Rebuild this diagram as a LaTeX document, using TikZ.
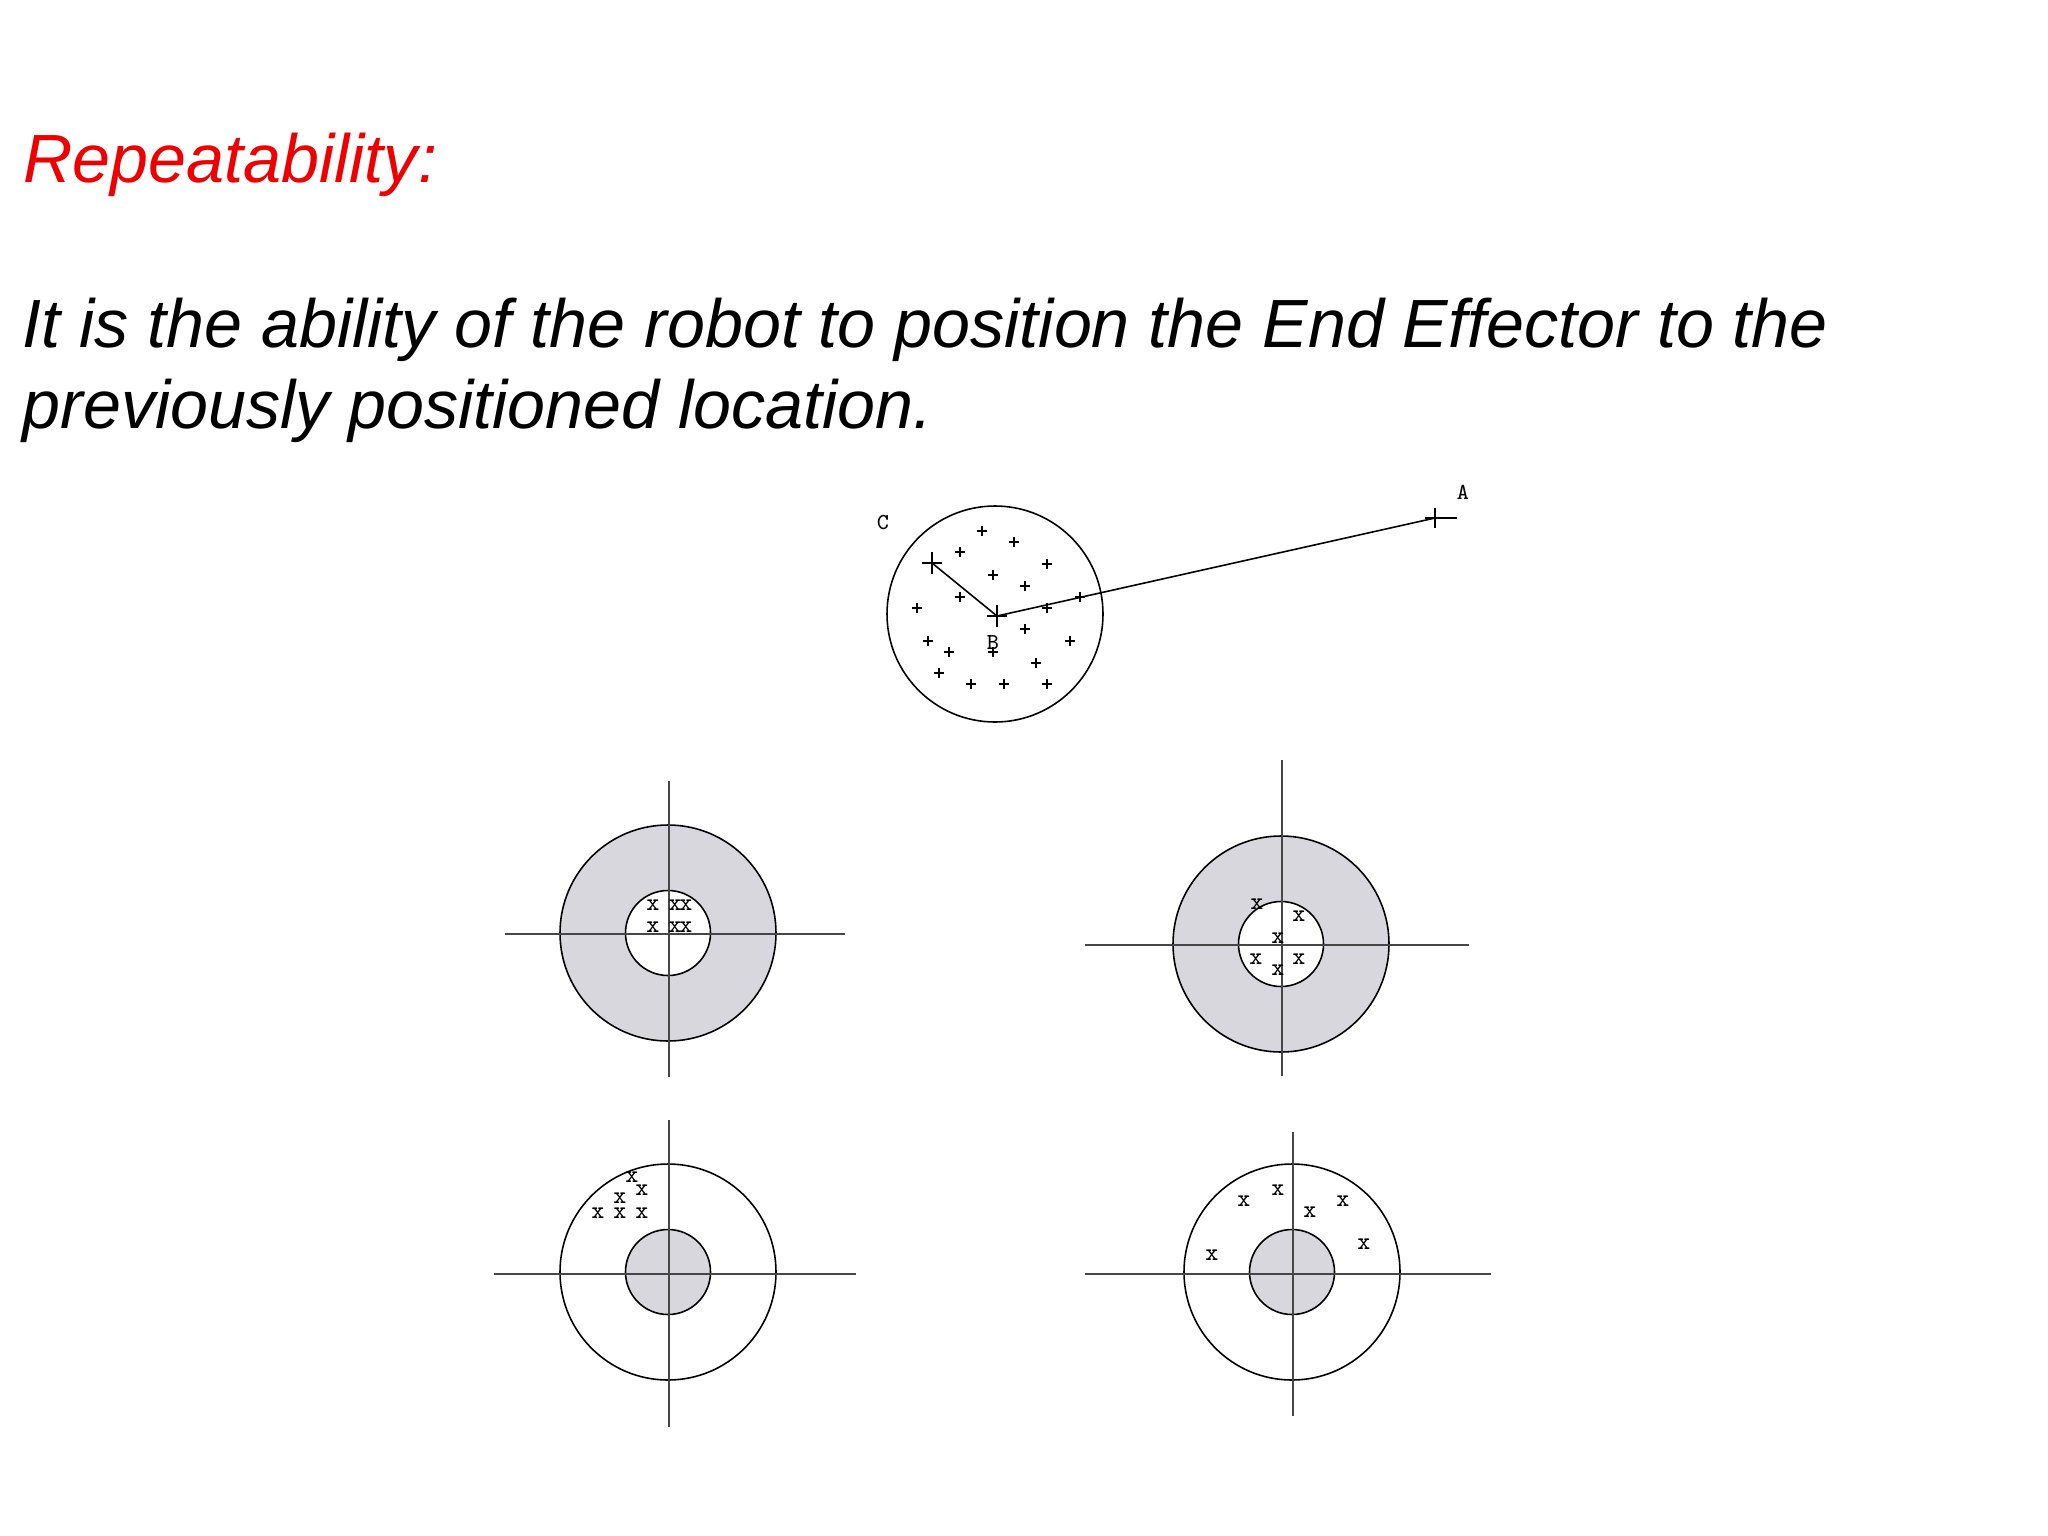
\documentclass[tikz,border=0pt]{standalone}
\usepackage{fontspec}
\setmainfont{Liberation Sans}
\definecolor{titlered}{RGB}{238,0,0}
\definecolor{targetgray}{RGB}{216,215,221}
\definecolor{axisgray}{RGB}{70,70,70}
\tikzset{
  ring/.style={draw, line width=0.45pt},
  axis/.style={draw=axisgray, line width=0.6pt},
  shot/.style={font=\ttfamily\fontsize{7}{7}\selectfont, inner sep=0pt},
  ptlabel/.style={font=\ttfamily\fontsize{6.5}{6.5}\selectfont, inner sep=0pt},
}
\begin{document}
\begin{tikzpicture}[x=0.01cm,y=-0.01cm]
\useasboundingbox (0,0) rectangle (2048,1536);

%draw title and text
\node[anchor=base west, inner sep=0pt, text=titlered, font=\itshape\fontsize{19.4}{23}\selectfont] (title) at (23,182) {Repeatability:};
\node[anchor=base west, inner sep=0pt, font=\itshape\fontsize{19.4}{23}\selectfont] (line1) at (22,347) {It is the ability of the robot to position the End Effector to the};
\node[anchor=base west, inner sep=0pt, font=\itshape\fontsize{19.4}{23}\selectfont] (line2) at (22,428) {previously positioned location.};

%draw spread circle
\draw[ring] (995,614) circle (108);
\coordinate (B) at (997,616);
\coordinate (A) at (1435,518);
\coordinate (C) at (932,563);
\draw[line width=0.45pt] (C) -- (B) -- (A);
\draw (B) ++(-10,0) -- ++(20,0) (B) ++(0,-11) -- ++(0,22);
\draw (C) ++(-10,0) -- ++(20,0) (C) ++(0,-11) -- ++(0,22);
\draw (A) ++(-10,0) -- ++(32,0) (A) ++(0,-10) -- ++(0,20);
\node[ptlabel] (labA) at (1463,492) {A};
\node[ptlabel] (labB) at (993,643) {B};
\node[ptlabel] (labC) at (883,523) {C};

%draw small crosses
\foreach \px/\py in {982/531,1014/542,960/552,1047/564,993/575,1025/586,960/597,1080/597,
  917/608,1047/608,1025/629,928/641,1070/641,949/652,993/652,1036/663,939/673,971/684,1004/684,1047/684}
\draw[line width=0.45pt] (\px-5,\py) -- (\px+5,\py) (\px,\py-5) -- (\px,\py+5);

%target 1: good repeatability, good accuracy
\fill[targetgray] (668,933) circle (108);
\filldraw[ring, fill=white] (668,933) circle (42.5);
\draw[ring] (668,933) circle (108);
\draw[axis] (505,934) -- (845,934) (669,781) -- (669,1077);
\foreach \px/\py in {653/905,675/905,686/905,653/927,675/927,686/927}
\node[shot] at (\px,\py) {x};

%target 2: poor repeatability, good accuracy
\fill[targetgray] (1281,944) circle (108);
\filldraw[ring, fill=white] (1281,944) circle (42.5);
\draw[ring] (1281,944) circle (108);
\draw[axis] (1085,945) -- (1469,945) (1282,760) -- (1282,1076);
\foreach \px/\py in {1257/904,1299/916,1278/938,1256/959,1299/959,1278/970}
\node[shot] at (\px,\py) {x};

%target 3: good repeatability, poor accuracy
\draw[ring] (668,1272) circle (108);
\filldraw[ring, fill=targetgray] (668,1272) circle (42.5);
\draw[axis] (494,1274) -- (856,1274) (669,1120) -- (669,1427);
\foreach \px/\py in {632/1177,642/1190,620/1198,598/1213,620/1213,642/1213}
\node[shot] at (\px,\py) {x};

%target 4: poor repeatability, poor accuracy
\draw[ring] (1292,1272) circle (108);
\filldraw[ring, fill=targetgray] (1292,1272) circle (42.5);
\draw[axis] (1085,1274) -- (1491,1274) (1293,1132) -- (1293,1416);
\foreach \px/\py in {1212/1255,1244/1201,1278/1190,1310/1212,1343/1201,1364/1244}
\node[shot] at (\px,\py) {x};

\end{tikzpicture}
\end{document}
